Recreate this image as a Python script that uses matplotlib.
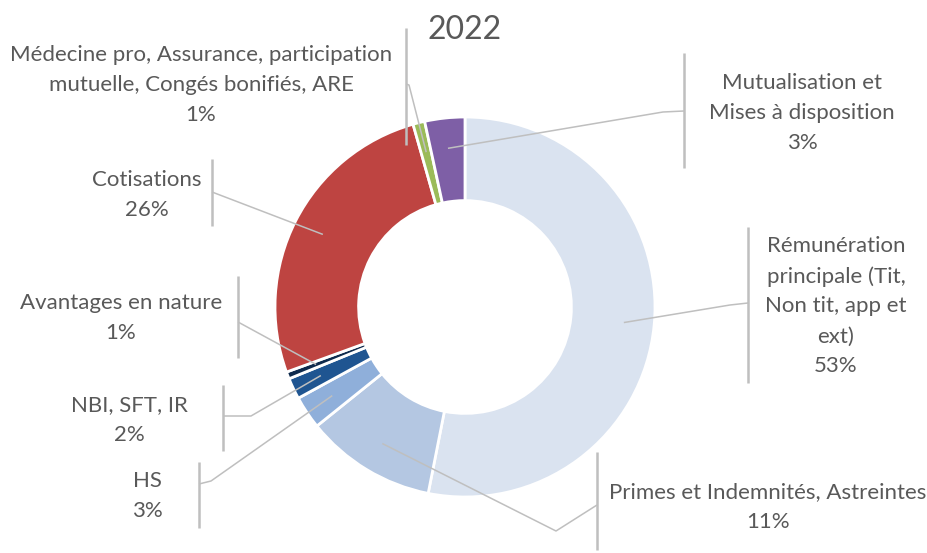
import matplotlib
matplotlib.use("Agg")
import matplotlib.pyplot as plt
import numpy as np

# ---------------- data ----------------
categories = [
    "Rémunération principale (Tit, Non tit, app et ext)",
    "Primes et Indemnités, Astreintes",
    "HS",
    "NBI, SFT, IR",
    "Avantages en nature",
    "Cotisations",
    "Médecine pro, Assurance, participation mutuelle, Congés bonifiés, ARE",
    "Mutualisation et Mises à disposition",
]
display_labels = [
    "Rémunération\nprincipale (Tit,\nNon tit, app et\next)",
    "Primes et Indemnités, Astreintes",
    "HS",
    "NBI, SFT, IR",
    "Avantages en nature",
    "Cotisations",
    "Médecine pro, Assurance, participation\nmutuelle, Congés bonifiés, ARE",
    "Mutualisation et\nMises à disposition",
]
values = [53.0, 11.1, 2.8, 1.8, 0.6, 26.1, 1.0, 3.4]
title = "2022"

colors = ["#DAE3F0", "#B4C7E2", "#8FAFDA", "#1F5591", "#0E2A4D",
          "#BE4441", "#9BBB59", "#7E5FA6"]

# ---------------- layout (pixel coords, y downward) ----------------
W, H = 928, 553
center_px = (465, 307)
R = 190
hole_width = 0.44
# text center x, text center y, bracket x, bracket y0, bracket y1, knee, connect y
label_layout = [
    (836, 306, 748, 227, 383, (730, 305), 303),
    (768, 507, 597, 452, 550, (556, 531), 505),
    (147, 496, 199, 462, 528, (211, 481), 484),
    (129, 420, 223, 385, 451, (251, 416), 416),
    (121, 318, 238, 276, 358, None, 322),
    (147, 195, 212, 159, 226, None, 192),
    (201, 85, 406, 28, 145, (409, 85), 84),
    (802, 113, 684, 53, 168, (663, 112), 111),
]

def P(x, y):
    return x, H - y

plt.rcParams['font.family'] = ['Lato', 'DejaVu Sans']
fig = plt.figure(figsize=(W / 100, H / 100), dpi=100)
ax = fig.add_axes([0, 0, 1, 1])

cx, cy = P(*center_px)
wedges, _ = ax.pie(values, colors=colors, startangle=90, counterclock=False,
                   radius=R, center=(cx, cy),
                   wedgeprops=dict(width=R * hole_width, edgecolor='white',
                                   linewidth=2))
ax.set_xlim(0, W)
ax.set_ylim(0, H)
ax.set_aspect('equal')
ax.set_axis_off()

total = sum(values)
text_color = "#595959"
line_color = "#BFBFBF"
for w, v, lab, lay in zip(wedges, values, display_labels, label_layout):
    tx, ty, bx, by0, by1, knee, conn_y = lay
    ang = np.deg2rad((w.theta1 + w.theta2) / 2)
    r_anchor = 0.84 * R
    ax_pt = (cx + r_anchor * np.cos(ang), cy + r_anchor * np.sin(ang))
    pts = [ax_pt]
    if knee is not None:
        pts.append(P(*knee))
    pts.append(P(bx, conn_y))
    xs, ys = zip(*pts)
    ax.plot(xs, ys, color=line_color, lw=1.1, solid_capstyle='butt', zorder=3)
    ax.plot([bx, bx], [H - by0, H - by1], color=line_color, lw=1.8,
            solid_capstyle='butt', zorder=3)
    pct = f"{round(v / total * 100):.0f}%"
    ax.text(*P(tx, ty), f"{lab}\n{pct}", ha='center', va='center',
            multialignment='center', fontsize=16, color=text_color,
            linespacing=1.62)

ax.text(*P(465, 30), title, ha='center', va='center', fontsize=23,
        color=text_color)

fig.savefig("out.png", dpi=100, facecolor='white')
